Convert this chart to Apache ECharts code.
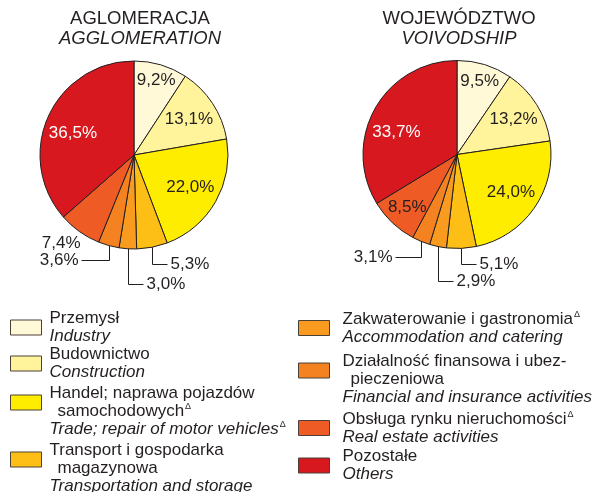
<!DOCTYPE html>
<html>
<head>
<meta charset="utf-8">
<script src="https://cdn.jsdelivr.net/npm/echarts@6/dist/echarts.min.js"></script>
<style>
html, body { margin: 0; padding: 0; background: #fff; }
#chart { width: 596px; height: 492px; }
</style>
</head>
<body>
<div id="chart"></div>
<script>
// sektory - kolejnosc wycinkow od godz. 12 zgodnie z ruchem wskazowek
var sectors = ['Przemysł', 'Budownictwo', 'Handel; naprawa pojazdów samochodowych',
    'Transport i gospodarka magazynowa', 'Zakwaterowanie i gastronomia',
    'Działalność finansowa i ubezpieczeniowa', 'Obsługa rynku nieruchomości', 'Pozostałe'];
var sectorsEn = ['Industry', 'Construction', 'Trade; repair of motor vehicles',
    'Transportation and storage', 'Accommodation and catering',
    'Financial and insurance activities', 'Real estate activities', 'Others'];
// podzial nazw w legendzie
var legendPl = [['Przemysł'], ['Budownictwo'], ['Handel; naprawa pojazdów', 'samochodowych'],
    ['Transport i gospodarka', 'magazynowa'], ['Zakwaterowanie i gastronomia'],
    ['Działalność finansowa i ubez-', 'pieczeniowa'], ['Obsługa rynku nieruchomości'], ['Pozostałe']];
var markPl = [0, 0, 1, 0, 1, 0, 1, 0];
var markEn = [0, 0, 1, 0, 0, 0, 0, 0];

var agglomeration = [9.2, 13.1, 22.0, 5.3, 3.0, 3.6, 7.4, 36.5];
var voivodship = [9.5, 13.2, 24.0, 5.1, 2.9, 3.1, 8.5, 33.7];

var colors = ['#FFF9D8', '#FFF49B', '#FFED00', '#FDBF15', '#F89B1E', '#F58220', '#EF5B24', '#D7181F'];

var ink = '#231F20';
var font = '"Liberation Sans", Arial, sans-serif';
var radius = 94;

// k - odleglosc etykiety wewnetrznej (czesc promienia), drop/run - linia odniesienia
var pies = [
    {
        center: [134, 155], values: agglomeration, titleX: 140,
        title: ['AGLOMERACJA', 'AGGLOMERATION'],
        labels: [{k: 0.83}, {k: 0.70}, {k: 0.69}, {drop: 17, run: 15}, {drop: 35, run: 15},
            {drop: 14, run: -28}, {drop: 11, run: 3, side: -1, noLine: true}, {k: 0.69, dx: -2, dy: 5}]
    },
    {
        center: [457, 154.5], values: voivodship, titleX: 459,
        title: ['WOJEWÓDZTWO', 'VOIVODSHIP'],
        labels: [{k: 0.82}, {k: 0.71}, {k: 0.70}, {drop: 16, run: 15}, {drop: 34, run: 15},
            {drop: 16, run: -26}, {k: 0.77}, {k: 0.69, dx: -4, dy: 10}]
    }
];

// pozycje legendy (lewa i prawa kolumna)
var legendSlots = [[10, 310], [10, 346], [10, 367], [10, 424], [298, 310], [298, 335], [298, 410], [298, 448]];

function fmt(v) {
    return v.toFixed(1).replace('.', ',') + '%';
}

function makeLayout(pie) {
    return function (params) {
        var s = pie.labels[params.dataIndex];
        if (s.k != null) {
            var r = params.labelRect;
            var vx = r.x + r.width / 2 - pie.center[0];
            var vy = r.y + r.height / 2 - pie.center[1];
            var len = Math.sqrt(vx * vx + vy * vy);
            var d = s.k * radius;
            return {
                x: pie.center[0] + vx / len * d + (s.dx || 0),
                y: pie.center[1] + vy / len * d + (s.dy || 0),
                align: 'center', verticalAlign: 'middle'
            };
        }
        var p0 = params.labelLinePoints[0];
        var x0 = Math.round(p0[0]) + 0.5;
        var y = Math.round(p0[1] + s.drop) + 0.5;
        var xEnd = x0 + s.run;
        var side = s.side || (s.run < 0 ? -1 : 1);
        var pts = s.noLine ? [[x0, p0[1]], [x0, p0[1]]] : [[x0, p0[1]], [x0, y], [xEnd, y]];
        return {
            x: xEnd + side * 3, y: y,
            align: side < 0 ? 'right' : 'left', verticalAlign: 'middle',
            labelLinePoints: pts
        };
    };
}

var series = pies.map(function (pie) {
    return {
        type: 'pie',
        center: pie.center,
        radius: radius,
        startAngle: 90,
        clockwise: true,
        avoidLabelOverlap: false,
        animation: false,
        emphasis: {disabled: true},
        itemStyle: {borderColor: ink, borderWidth: 1},
        label: {
            position: 'inside',
            fontFamily: font,
            fontSize: 17,
            color: ink,
            formatter: function (p) { return fmt(p.value); }
        },
        labelLine: {show: false},
        labelLayout: makeLayout(pie),
        data: pie.values.map(function (v, i) {
            var item = {name: sectors[i], value: v, itemStyle: {color: colors[i]}};
            if (pie.labels[i].k == null) {
                item.label = {position: 'outside'};
                item.labelLine = {show: true, lineStyle: {color: ink, width: 1}};
            }
            if (i === sectors.length - 1) {
                item.label = {color: '#fff'};
            }
            return item;
        })
    };
});

var titles = [];
pies.forEach(function (pie) {
    titles.push({
        text: pie.title[0], left: pie.titleX, top: 8.5, textAlign: 'center', padding: 0,
        textStyle: {fontFamily: font, fontSize: 18.5, fontWeight: 'normal', color: ink, lineHeight: 20}
    });
    titles.push({
        text: pie.title[1], left: pie.titleX, top: 28.5, textAlign: 'center', padding: 0,
        textStyle: {fontFamily: font, fontSize: 18.5, fontWeight: 'normal', fontStyle: 'italic', color: ink, lineHeight: 20}
    });
});

function richFor(pad) {
    return {
        pl: {fontFamily: font, fontSize: 17, lineHeight: 18, color: ink, padding: [0, 0, 0, pad]},
        plc: {fontFamily: font, fontSize: 17, lineHeight: 18, color: ink, padding: [0, 0, 0, pad + 8]},
        en: {fontFamily: font, fontSize: 17, lineHeight: 18, color: ink, fontStyle: 'italic', padding: [0, 0, 0, pad]},
        mk: {fontFamily: font, fontSize: 9, lineHeight: 10, color: ink, verticalAlign: 'top', padding: [0, 0, 0, 1]},
        gap: {fontFamily: font, fontSize: 17, lineHeight: 18}
    };
}

function legendText(name) {
    var i = sectors.indexOf(name);
    var lines = [];
    var pl = legendPl[i];
    if (pl.length > 1) lines.push('{gap| }');
    pl.forEach(function (t, j) {
        var s = '{' + (j === 0 ? 'pl' : 'plc') + '|' + t + '}';
        if (j === pl.length - 1 && markPl[i]) s += '{mk|Δ}';
        lines.push(s);
    });
    lines.push('{en|' + sectorsEn[i] + '}' + (markEn[i] ? '{mk|Δ}' : ''));
    return lines.join('\n');
}

var legends = sectors.map(function (name, i) {
    return {
        data: [name],
        orient: 'vertical',
        left: legendSlots[i][0],
        top: legendSlots[i][1],
        padding: 0,
        icon: 'rect',
        itemWidth: 31,
        itemHeight: 15,
        selectedMode: false,
        itemStyle: {borderColor: '#4a4038', borderWidth: 1},
        formatter: legendText,
        textStyle: {fontFamily: font, fontSize: 17, color: ink, rich: richFor(i < 4 ? 3 : 8)}
    };
});

var chart = echarts.init(document.getElementById('chart'));
chart.setOption({
    backgroundColor: '#fff',
    animation: false,
    title: titles,
    legend: legends,
    series: series
});
</script>
</body>
</html>
